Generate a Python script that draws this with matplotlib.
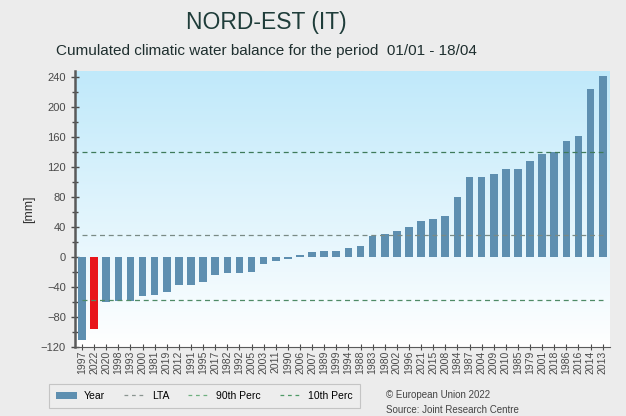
import numpy as np
import matplotlib.pyplot as plt
from matplotlib.lines import Line2D
from matplotlib.patches import Patch
from matplotlib.colors import LinearSegmentedColormap

plt.rcParams['font.family'] = ['Liberation Sans', 'DejaVu Sans']

# Data
years = ["1997", "2022", "2020", "1998", "1993", "2000", "1981", "2019", "2012", "1991",
         "1995", "2017", "1982", "1992", "2005", "2003", "2011", "1990", "2006", "2007",
         "1989", "1999", "1994", "1988", "1983", "1980", "2002", "1996", "2021", "2015",
         "2008", "1984", "1987", "2004", "2009", "2010", "1985", "1979", "2001", "2018",
         "1986", "2016", "2014", "2013"]
values = [-111, -97, -60, -59, -59, -52, -51, -47, -38, -38,
          -34, -24, -21, -21, -20, -10, -5, -3, 3, 7,
          8, 8, 12, 15, 28, 31, 34, 40, 48, 51,
          54, 80, 106, 106, 111, 117, 117, 128, 137, 140,
          155, 161, 224, 241]
current_year = "2022"
lta = 29
perc90 = 140
perc10 = -58

bar_color = "#5e8fb0"
bar_colors = ["#e8151b" if y == current_year else bar_color for y in years]

fig = plt.figure(figsize=(6.26, 4.16), dpi=100)
fig.patch.set_facecolor("#ececec")
ax = fig.add_axes([0.1198, 0.1666, 0.8546, 0.6627])

x = np.arange(len(years))
ax.set_xlim(-0.58, len(years) - 1 + 0.6)
ax.set_ylim(-120, 248)

# gradient background
grad = np.linspace(0, 1, 256).reshape(-1, 1)
cmap = LinearSegmentedColormap.from_list("bg", ["#ffffff", "#c0e9fa"])
ax.imshow(grad, aspect="auto", cmap=cmap, origin="lower",
          extent=[-0.58, len(years) - 0.4, -120, 248], zorder=0)

ax.bar(x, values, width=0.63, color=bar_colors, zorder=2)

ax.hlines(lta, 0, len(years) - 1, colors="#7a8a85", linestyles=(0, (4, 3)), linewidth=0.9, zorder=3)
ax.hlines(perc90, 0, len(years) - 1, colors="#3f7a5a", linestyles=(0, (4, 3)), linewidth=0.9, zorder=3)
ax.hlines(perc10, 0, len(years) - 1, colors="#4f8a66", linestyles=(0, (4, 3)), linewidth=0.9, zorder=3)

ax.set_xticks(x)
ax.set_xticklabels(years, rotation=90, fontsize=7.5, color="#4a4a4a")
ax.set_yticks(np.arange(-120, 241, 40))
ax.set_yticks(np.arange(-120, 241, 20), minor=True)
ax.tick_params(axis="y", labelsize=8, colors="#4a4a4a", direction="inout", length=6, width=1)
ax.tick_params(axis="y", which="minor", direction="inout", length=4, width=1, colors="#4a4a4a")
ax.tick_params(axis="x", direction="inout", length=4, width=0.8, colors="#4a4a4a", pad=1)

for s in ["top", "right"]:
    ax.spines[s].set_visible(False)
ax.spines["left"].set_color("#5a5a5a")
ax.spines["left"].set_linewidth(1.8)
ax.spines["bottom"].set_color("#5a5a5a")
ax.spines["bottom"].set_linewidth(0.8)

ax.set_ylabel("[mm]", fontsize=9, color="#333333", labelpad=4)

fig.text(0.425, 0.946, "NORD-EST (IT)", ha="center", va="center", fontsize=16.5, color="#1f3d3a")
fig.text(0.425, 0.878, "Cumulated climatic water balance for the period  01/01 - 18/04",
         ha="center", va="center", fontsize=11, color="#1f2f2f")

handles = [Patch(facecolor=bar_color, label="Year"),
           Line2D([], [], color="#8a9590", linestyle=(0, (3, 3)), lw=0.9, label="LTA"),
           Line2D([], [], color="#6fb07f", linestyle=(0, (3, 3)), lw=0.9, label="90th Perc"),
           Line2D([], [], color="#4f9a66", linestyle=(0, (3, 3)), lw=0.9, label="10th Perc")]
leg = fig.legend(handles=handles, loc="center", bbox_to_anchor=(0.326, 0.048), ncol=4,
                 fontsize=7.5, frameon=True, fancybox=False, edgecolor="#bbbbbb",
                 facecolor="#eeeeee", handlelength=2.0, columnspacing=1.8,
                 borderpad=0.7, handletextpad=0.7)
leg.get_frame().set_linewidth(0.8)

fig.text(0.617, 0.05, "© European Union 2022", fontsize=7, color="#444444", va="center")
fig.text(0.617, 0.014, "Source: Joint Research Centre", fontsize=7, color="#444444", va="center")

fig.savefig("out.png", dpi=100, facecolor=fig.get_facecolor())
